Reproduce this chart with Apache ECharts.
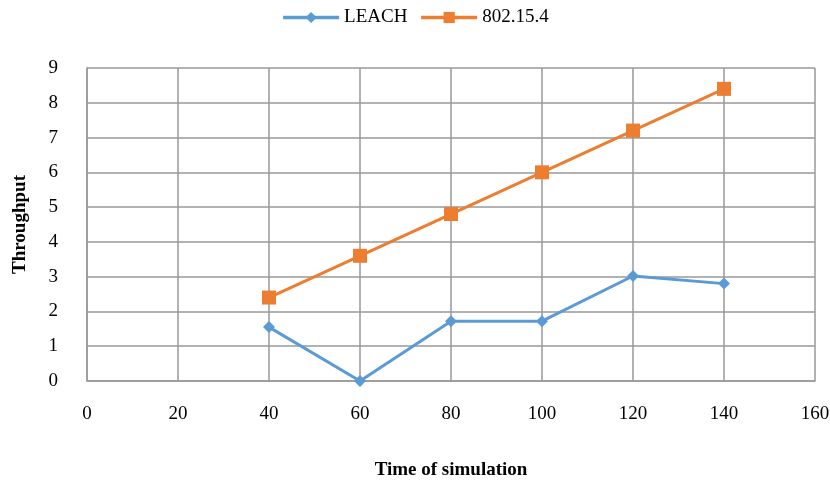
<!DOCTYPE html>
<html><head><meta charset="utf-8">
<script src="https://cdn.jsdelivr.net/npm/echarts@6/dist/echarts.min.js"></script>
<style>html,body{margin:0;padding:0;background:#fff}#c{width:830px;height:489px}</style>
</head><body><div id="c"></div>
<script>
const xValues = [40, 60, 80, 100, 120, 140];
const leach = [1.55, 0, 1.72, 1.72, 3.02, 2.8];
const ieee = [2.4, 3.6, 4.8, 6.0, 7.2, 8.4];
const seriesNames = ['LEACH', '802.15.4'];

const font = 'Liberation Serif';
const chart = echarts.init(document.getElementById('c'));
chart.setOption({
  backgroundColor: '#fff',
  animation: false,
  legend: {
    top: 3, left: 'center', itemGap: 12, itemWidth: 56, itemHeight: 14,
    lineStyle: { width: 3.5 },
    textStyle: { fontFamily: font, fontSize: 19, color: '#000' },
    data: seriesNames
  },
  grid: { left: 87, right: 15, top: 68, bottom: 108, containLabel: false, outerBoundsMode: 'none' },
  xAxis: {
    type: 'value', min: 0, max: 160, interval: 20,
    name: 'Time of simulation', nameLocation: 'middle', nameGap: 80,
    nameTextStyle: { fontFamily: font, fontSize: 19, fontWeight: 'bold', color: '#000' },
    axisLine: { lineStyle: { color: '#999', width: 1.5 } },
    axisTick: { show: false },
    axisLabel: { fontFamily: font, fontSize: 19, color: '#000', margin: 24 },
    splitLine: { show: true, lineStyle: { color: '#999', width: 1.5 } }
  },
  yAxis: {
    type: 'value', min: 0, max: 9, interval: 1,
    name: 'Throughput', nameLocation: 'middle', nameGap: 57,
    nameTextStyle: { fontFamily: font, fontSize: 19, fontWeight: 'bold', color: '#000' },
    axisLine: { show: true, lineStyle: { color: '#999', width: 1.5 } },
    axisTick: { show: false },
    axisLabel: { fontFamily: font, fontSize: 19, color: '#000', margin: 29 },
    splitLine: { show: true, lineStyle: { color: '#999', width: 1.5 } }
  },
  series: [
    {
      name: seriesNames[0], type: 'line', data: xValues.map((x, i) => [x, leach[i]]),
      symbol: 'diamond', symbolSize: 12,
      lineStyle: { color: '#5B9BD5', width: 3 }, itemStyle: { color: '#5B9BD5' }
    },
    {
      name: seriesNames[1], type: 'line', data: xValues.map((x, i) => [x, ieee[i]]),
      symbol: 'rect', symbolSize: 14,
      lineStyle: { color: '#ED7D31', width: 3 }, itemStyle: { color: '#ED7D31' }
    }
  ]
});
</script></body></html>
